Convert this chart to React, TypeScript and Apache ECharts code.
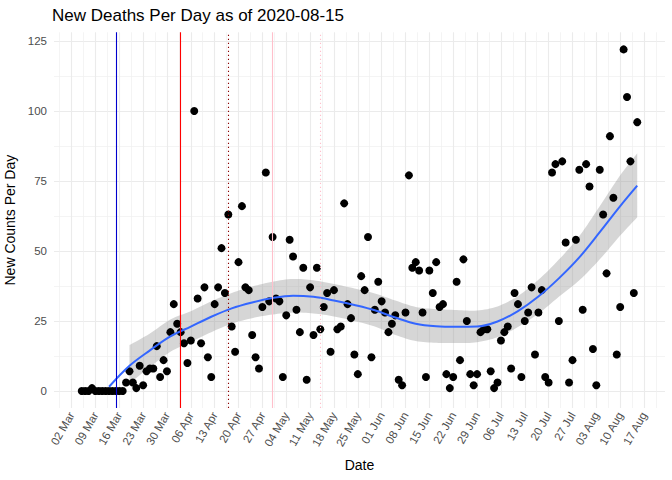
import React, { useEffect, useRef } from "react";
import * as echarts from "echarts";

// ---- data ----
const firstDate = "2020-03-05"; // one value per day from here
const deaths = [
  0, 0, 0, 1, 0, 0, 0, 0, 0, 0, 0, 0, 0,
  3, 7, 3, 1, 9, 2, 7, 8, 8, 16,
  5, 11, 7, 21, 31, 24, 21, 17, 10, 18,
  100, 33, 17, 37, 12, 5, 31, 37, 51, 35,
  63, 23, 14, 46, 66, 37, 36, 20, 12, 8,
  30, 78, 32, 55, 33, 32, 5, 27, 54, 48,
  29, 21, 44, 4, 37, 20, 44, 22, 30, 35,
  14, 36, 22, 23, 67, 31, 26, 13, 6, 41,
  36, 55, 12, 29, 39, 32, 28, 21, 24, 27,
  4, 2, 28, 77, 44, 46, 43, 28, 5, 43,
  35, 46, 30, 31, 6, 1, 5, 39, 11, 47,
  25, 6, 2, 6, 21, 22, 22, 7, 1, 3,
  18, 21, 23, 8, 35, 31, 5, 25, 28, 37,
  13, 28, 36, 5, 3, 78, 81, 25, 82, 53,
  3, 11, 54, 79, 29, 81, 73, 15, 2, 79,
  63, 42, 91, 69, 13, 30, 122, 105, 82, 35, 96,
];

const fitDates = [
  "2020-03-13", "2020-03-19", "2020-03-25", "2020-03-31", "2020-04-06", "2020-04-12",
  "2020-04-18", "2020-04-24", "2020-04-30", "2020-05-06", "2020-05-12", "2020-05-18",
  "2020-05-24", "2020-05-30", "2020-06-05", "2020-06-11", "2020-06-17", "2020-06-23",
  "2020-06-29", "2020-07-05", "2020-07-11", "2020-07-17", "2020-07-23", "2020-07-29",
  "2020-08-04", "2020-08-10", "2020-08-15",
];
const fitValues = [
  1.5, 9, 14.5, 19.5, 23, 26.5, 29.5, 31.6, 33.2, 34, 33.6, 32.3, 30.7, 28.8, 26.2,
  24, 23.1, 22.9, 23, 24.8, 28.5, 33.7, 40.2, 47.7, 56.7, 66, 73.3,
];

const bandDates = fitDates.slice(1);
const bandLower = [
  2.7, 8.5, 14, 17.5, 21, 24, 26, 27.3, 28, 27.7, 26.6, 25, 23, 20, 17.8, 17.2, 17.1,
  17.4, 19.2, 22.8, 27.6, 33.6, 39.5, 47, 55.5, 62,
];
const bandUpper = [
  16.4, 20.5, 25.5, 28.5, 32, 35, 37.3, 39, 40, 39.5, 38.2, 36.6, 34.8, 32.3, 30, 29.2,
  28.9, 28.7, 30.2, 33.9, 39.7, 46.9, 55.3, 66, 77, 84.9,
];

const eventDates = ["2020-03-15", "2020-04-03", "2020-04-17", "2020-04-30", "2020-05-14"];
const eventColors = ["#0000CD", "#FF0000", "#8B0000", "#FFC0CB", "#FFC0CB"];
const eventDashed = [false, false, true, false, true];

const tickDates = [
  "2020-03-02", "2020-03-09", "2020-03-16", "2020-03-23", "2020-03-30", "2020-04-06",
  "2020-04-13", "2020-04-20", "2020-04-27", "2020-05-04", "2020-05-11", "2020-05-18",
  "2020-05-25", "2020-06-01", "2020-06-08", "2020-06-15", "2020-06-22", "2020-06-29",
  "2020-07-06", "2020-07-13", "2020-07-20", "2020-07-27", "2020-08-03", "2020-08-10",
  "2020-08-17",
];
const yTicks = [0, 25, 50, 75, 100, 125];
const yMinorTicks = [12.5, 37.5, 62.5, 87.5, 112.5];

const MONTHS = ["Jan", "Feb", "Mar", "Apr", "May", "Jun", "Jul", "Aug", "Sep", "Oct", "Nov", "Dec"];
const ORIGIN = Date.UTC(2020, 2, 2);
const DAY = 86400000;
const toDay = (s: string) => (Date.parse(s + "T00:00:00Z") - ORIGIN) / DAY;
const fmtDay = (v: number) => {
  const d = new Date(ORIGIN + Math.round(v) * DAY);
  const dd = String(d.getUTCDate()).padStart(2, "0");
  return dd + " " + MONTHS[d.getUTCMonth()];
};

const X_MIN = -5.15;
const X_MAX = 174.15;
const Y_MIN = -6.1;
const Y_MAX = 128.1;
const FONT = "'Liberation Sans', Arial, sans-serif";

// Catmull-Rom sampling of pixel points (rendering only)
function smoothPts(pts: number[][], steps = 8): number[][] {
  const out: number[][] = [];
  const n = pts.length;
  for (let i = 0; i < n - 1; i++) {
    const p0 = pts[Math.max(0, i - 1)];
    const p1 = pts[i];
    const p2 = pts[i + 1];
    const p3 = pts[Math.min(n - 1, i + 2)];
    for (let s = 0; s < steps; s++) {
      const t = s / steps;
      const t2 = t * t;
      const t3 = t2 * t;
      const f = (a: number, b: number, c: number, d: number) =>
        0.5 * (2 * b + (-a + c) * t + (2 * a - 5 * b + 4 * c - d) * t2 + (-a + 3 * b - 3 * c + d) * t3);
      out.push([f(p0[0], p1[0], p2[0], p3[0]), f(p0[1], p1[1], p2[1], p3[1])]);
    }
  }
  out.push(pts[n - 1]);
  return out;
}

export default function App() {
  const ref = useRef<HTMLDivElement>(null);

  useEffect(() => {
    if (!ref.current) return;
    const chart = echarts.init(ref.current, null, { renderer: "svg" });

    const start = toDay(firstDate);
    const points = deaths.map((v, i) => [start + i, v]);
    const majorDays = tickDates.map(toDay);
    const minorDays = [majorDays[0] - 3.5, ...majorDays.map((d) => d + 3.5)];
    const bandData = bandDates.map((d, i) => [toDay(d), bandLower[i], bandUpper[i]]);
    const fitData = fitDates.map((d, i) => [toDay(d), fitValues[i]]);

    const option: any = {
      animation: false,
      title: {
        text: "New Deaths Per Day as of 2020-08-15",
        left: 47,
        top: 2,
        textStyle: { fontFamily: FONT, fontSize: 17, fontWeight: "normal", color: "#000" },
      },
      grid: { left: 54, right: 7, top: 32.3, bottom: 72, containLabel: false, outerBoundsMode: "none" },
      xAxis: [
        {
          type: "value",
          min: X_MIN,
          max: X_MAX,
          position: "bottom",
          axisLine: { show: false },
          axisTick: { show: false, customValues: majorDays },
          axisLabel: {
            customValues: majorDays,
            rotate: 60,
            margin: 5,
            color: "#4D4D4D",
            fontSize: 11.5,
            fontFamily: FONT,
            formatter: (v: number) => fmtDay(v),
          },
          splitLine: { show: true, lineStyle: { color: "#EBEBEB", width: 1.1 } },
          name: "Date",
          nameLocation: "middle",
          nameGap: 50,
          nameTextStyle: { fontFamily: FONT, fontSize: 14, color: "#000" },
        },
        {
          type: "value",
          min: X_MIN,
          max: X_MAX,
          position: "bottom",
          axisLine: { show: false },
          axisTick: { show: false, customValues: minorDays },
          axisLabel: { show: false, customValues: minorDays },
          splitLine: { show: true, lineStyle: { color: "#EFEFEF", width: 0.7 } },
        },
      ],
      yAxis: [
        {
          type: "value",
          min: Y_MIN,
          max: Y_MAX,
          axisLine: { show: false },
          axisTick: { show: false, customValues: yTicks },
          axisLabel: {
            customValues: yTicks,
            margin: 7,
            color: "#4D4D4D",
            fontSize: 11.5,
            fontFamily: FONT,
          },
          splitLine: { show: true, lineStyle: { color: "#EBEBEB", width: 1.1 } },
          name: "New Counts Per Day",
          nameLocation: "middle",
          nameRotate: 90,
          nameGap: 30,
          nameTextStyle: { fontFamily: FONT, fontSize: 14, color: "#000" },
        },
        {
          type: "value",
          min: Y_MIN,
          max: Y_MAX,
          axisLine: { show: false },
          axisTick: { show: false, customValues: yMinorTicks },
          axisLabel: { show: false, customValues: yMinorTicks },
          splitLine: { show: true, lineStyle: { color: "#EFEFEF", width: 0.7 } },
        },
      ],
      series: [
        {
          type: "scatter",
          xAxisIndex: 0,
          yAxisIndex: 0,
          data: points,
          symbol: "circle",
          symbolSize: 8,
          itemStyle: { color: "#000000", opacity: 1 },
          silent: true,
          markLine: {
            silent: true,
            symbol: ["none", "none"],
            label: { show: false },
            data: eventDates.map((d, i) => ({
              xAxis: toDay(d),
              lineStyle: {
                color: eventColors[i],
                width: 1.1,
                opacity: 1,
                type: eventDashed[i] ? [1.2, 2.8] : "solid",
              },
            })),
          },
        },
        {
          type: "custom",
          xAxisIndex: 0,
          yAxisIndex: 0,
          data: bandData,
          silent: true,
          renderItem: (params: any, api: any) => {
            if (params.dataIndex !== 0) return null;
            const n = params.dataInsideLength;
            const up: number[][] = [];
            const lo: number[][] = [];
            for (let i = 0; i < n; i++) {
              const x = api.value(0, i);
              up.push(api.coord([x, api.value(2, i)]));
              lo.push(api.coord([x, api.value(1, i)]));
            }
            const pts = smoothPts(up).concat(smoothPts(lo).reverse());
            return {
              type: "polygon",
              shape: { points: pts },
              style: { fill: "rgba(153,153,153,0.4)", stroke: null },
            };
          },
        },
        {
          type: "line",
          xAxisIndex: 0,
          yAxisIndex: 0,
          data: fitData,
          symbol: "none",
          smooth: 0.35,
          lineStyle: { color: "#3366FF", width: 2 },
          silent: true,
        },
      ],
    };

    chart.setOption(option);
    return () => chart.dispose();
  }, []);

  return (
    <div
      ref={ref}
      style={{ position: "fixed", left: 0, top: 0, width: 672, height: 480, background: "#fff" }}
    />
  );
}
